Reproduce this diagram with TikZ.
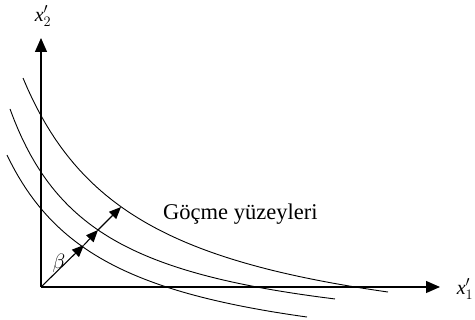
\documentclass[tikz,border=0pt]{standalone}
\usepackage{fontspec}
\setmainfont{Liberation Serif}
\usetikzlibrary{arrows.meta}

\begin{document}
\begin{tikzpicture}[
    x=1pt, y=-1pt,
    axisline/.style={line width=1.2pt, -{Triangle[length=14pt, width=12pt]}},
    surfline/.style={line width=0.9pt},
    vecline/.style={line width=1.1pt, -{Triangle[length=12pt, width=10pt]}},
    lbl/.style={font=\fontsize{20}{22}\selectfont, inner sep=1pt}
  ]
    \useasboundingbox (0,0) rectangle (475,320);

    % --- Axes ---
    \coordinate (O) at (41,287);
    \coordinate (ytop) at (41,38);
    \coordinate (xend) at (440,287);
    \draw[axisline] (O) -- (ytop);
    \draw[axisline] (O) -- (xend);
    \node[lbl] (x2lbl) at (43,16) {$\mathit{x}'_2$};
    \node[lbl] (x1lbl) at (465,289) {$\mathit{x}'_1$};

    % --- Failure surfaces ---
    \draw[surfline] plot[domain=23:388, samples=80] (\x, {360.8-331.71/((\x+94.3)/100)});
    \draw[surfline] plot[domain=10:335, samples=80] (\x, {350-210.43/((\x+77.3)/100)});
    \draw[surfline] plot[domain=7:307, samples=80] (\x, {373.4-227.99/((\x+97.4)/100)});
    \node[lbl, font=\fontsize{22.5}{24}\selectfont, anchor=west] (surflbl) at (162,214) {Göçme yüzeyleri};

    % --- Loading path ---
    \coordinate (p1) at (84,245);
    \coordinate (p2) at (98,230);
    \coordinate (p3) at (121,207);
    \draw[vecline] (O) -- (p1);
    \draw[vecline] (p1) -- (p2);
    \draw[vecline] (p2) -- (p3);
    \node[lbl, font=\fontsize{22}{24}\selectfont] (beta) at (59,263) {$\beta$};
\end{tikzpicture}
\end{document}
